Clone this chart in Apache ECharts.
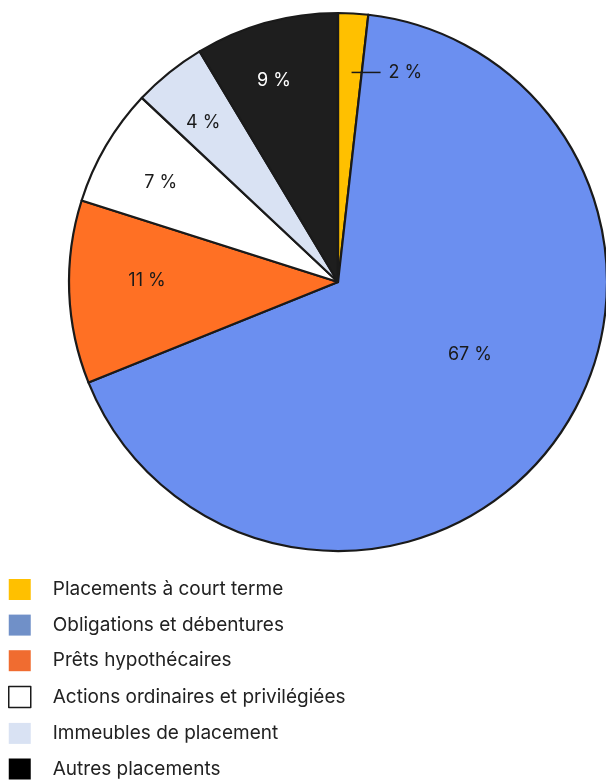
<!DOCTYPE html>
<html><head><meta charset="utf-8">
<script src="https://cdn.jsdelivr.net/npm/echarts@6/dist/echarts.min.js"></script>
<style>html,body{margin:0;padding:0;background:#fff}#c{width:606px;height:781px}</style>
</head><body><div id="c"></div>
<script>
const categories = ['Placements à court terme','Obligations et débentures','Prêts hypothécaires','Actions ordinaires et privilégiées','Immeubles de placement','Autres placements'];
const values = [1.8, 67.1, 11.0, 7.1, 4.4, 8.6];

const pieColors = ['#FFC000','#6B8FF0','#FF7024','#FFFFFF','#D9E2F3','#1E1E1E'];
const legendColors = ['#FFC000','#7090C8','#F06C30','#FFFFFF','#D9E2F3','#000000'];
const labelColors = ['#1a1a1a','#1a1a1a','#1a1a1a','#1a1a1a','#1a1a1a','#ffffff'];
// label placement style: radius fraction and angular shift (deg) relative to slice middle
const labelRadiusFrac = [0.80, 0.56, 0.71, 0.755, 0.775, 0.785];
const labelAngleShift = [9.9, -8.4, 2.5, -1.2, -1.4, -2.2];

const CX = 338, CY = 282, R = 269;
const total = values.reduce((a,b)=>a+b,0);
const mids = []; let acc = 0;
values.forEach(v => { const a = v/total*360; mids.push(acc + a/2); acc += a; });

const chart = echarts.init(document.getElementById('c'), null, {renderer:'canvas'});
chart.setOption({
  animation:false,
  legend:{
    orient:'vertical', left:8, top:579, padding:0,
    height:210,
    itemWidth:22, itemHeight:21, itemGap:14.6,
    icon:'rect',
    selectedMode:false,
    textStyle:{fontFamily:'Inter', fontSize:19, color:'#222222', padding:[0,0,0,17]},
    itemStyle:{borderWidth:0},
    data: categories.map((n,i)=>({name:n, itemStyle: i===3 ? {color:'#fff', borderColor:'#1a1a1a', borderWidth:1.5} : {color:legendColors[i], borderWidth:0}}))
  },
  series:[{
    type:'pie',
    center:[CX, CY], radius:[0, R],
    startAngle:90, clockwise:true,
    avoidLabelOverlap:false,
    percentPrecision:0,
    itemStyle:{borderColor:'#1a1a1a', borderWidth:2.2},
    emphasis:{disabled:true},
    label:{
      show:true, position:'inside',
      fontFamily:'Inter', fontSize:18,
      formatter: p => p.dataIndex===0 ? '{ln|}{t|' + p.percent + ' %}' : p.percent + ' %',
      rich:{
        ln:{width:29, height:1.5, backgroundColor:'#1a1a1a'},
        t:{fontFamily:'Inter', fontSize:18, color:'#1a1a1a', padding:[0,0,0,8]}
      }
    },
    labelLine:{show:false},
    labelLayout: p => {
      const i = p.dataIndex;
      const th = (mids[i] + labelAngleShift[i]) * Math.PI/180;
      const r = R * labelRadiusFrac[i];
      return {x: CX + r*Math.sin(th), y: CY - r*Math.cos(th), align:'center', verticalAlign:'middle'};
    },
    data: categories.map((n,i)=>({name:n, value:values[i], itemStyle:{color:pieColors[i]}, label:{color:labelColors[i]}}))
  }]
});
</script></body></html>
